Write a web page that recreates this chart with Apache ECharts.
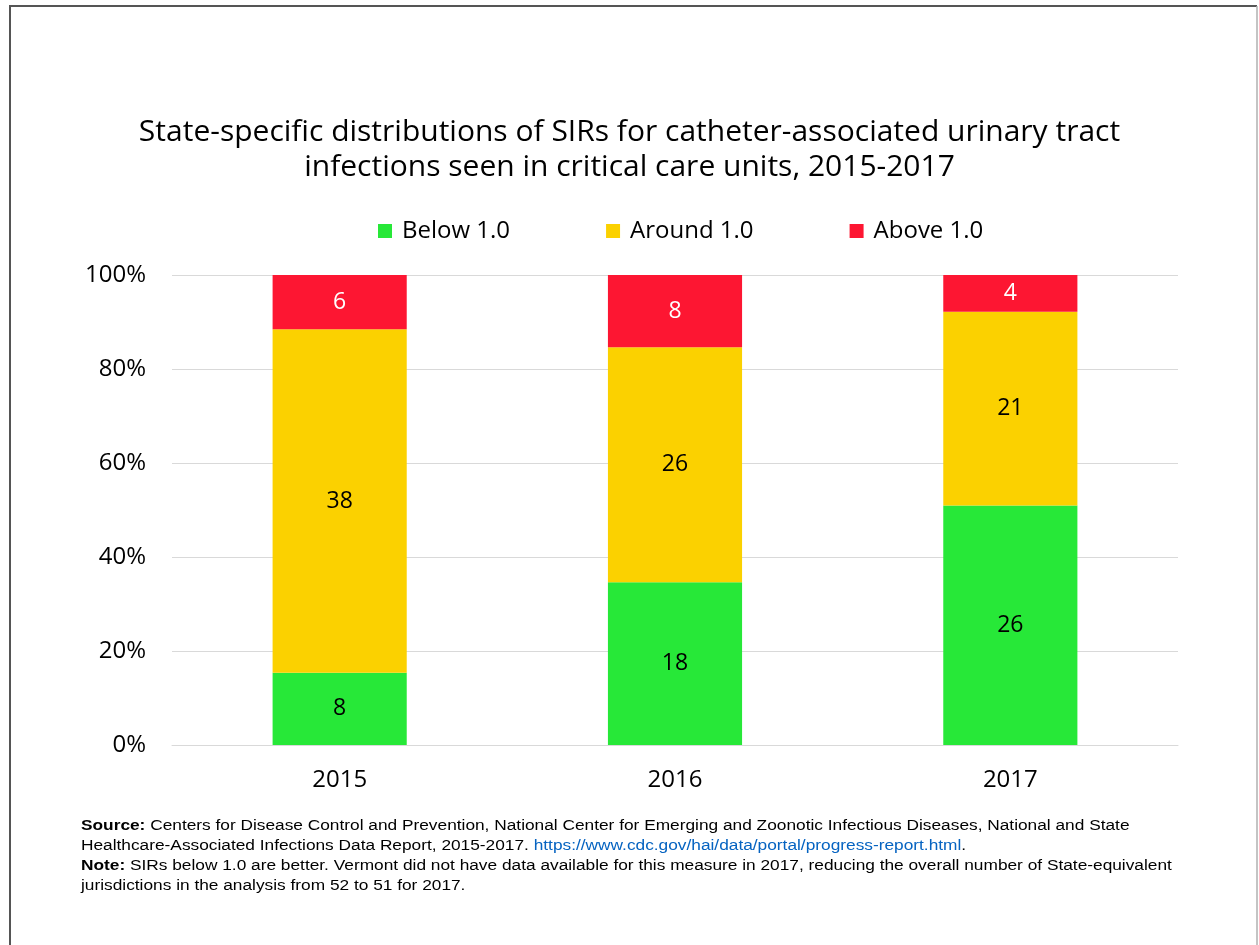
<!DOCTYPE html>
<html>
<head>
<meta charset="utf-8">
<script src="https://cdn.jsdelivr.net/npm/echarts@6/dist/echarts.min.js"></script>
<style>
html,body{margin:0;padding:0;background:#fff;}
#chart{width:1259px;height:945px;}
</style>
</head>
<body>
<div id="chart"></div>
<script>
const categories = ['2015', '2016', '2017'];
const seriesNames = ['Below 1.0', 'Around 1.0', 'Above 1.0'];
const belowCounts = [8, 18, 26];
const aroundCounts = [38, 26, 21];
const aboveCounts = [6, 8, 4];
const yTickLabels = ['0%', '20%', '40%', '60%', '80%', '100%'];
const colors = ['#27E838', '#FBD100', '#FD1632'];
const labelColors = ['#000000', '#000000', '#FFFFFF'];

const totals = categories.map((_, i) => belowCounts[i] + aroundCounts[i] + aboveCounts[i]);
const allCounts = [belowCounts, aroundCounts, aboveCounts];

const FONT = '"Open Sans", Lato, sans-serif';
const NOTE_FONT = '"Liberation Sans", Arial, sans-serif';

const chart = echarts.init(document.getElementById('chart'), null, {renderer: 'canvas'});
chart.setOption({
  animation: false,
  backgroundColor: '#ffffff',
  title: {
    text: 'State-specific distributions of SIRs for catheter-associated urinary tract\ninfections seen in critical care units, 2015-2017',
    left: 'center',
    top: 110,
    textStyle: {fontFamily: FONT, fontSize: 30, fontWeight: 'normal', color: '#000', lineHeight: 35}
  },
  legend: {
    top: 214,
    left: 373,
    itemWidth: 14,
    itemHeight: 14,
    itemGap: 96,
    icon: 'rect',
    textStyle: {fontFamily: FONT, fontSize: 24, color: '#000', padding: [0, 0, 0, 5]},
    data: seriesNames
  },
  grid: {left: 172, right: 81, top: 275, bottom: 200, containLabel: false},
  xAxis: {
    type: 'category',
    data: categories,
    axisLine: {show: true, lineStyle: {color: '#d9d9d9'}},
    axisTick: {show: false},
    axisLabel: {fontFamily: FONT, fontSize: 24, color: '#000', margin: 23}
  },
  yAxis: {
    type: 'value',
    min: 0,
    max: 100,
    interval: 20,
    axisLine: {show: false},
    axisTick: {show: false},
    splitLine: {lineStyle: {color: '#d9d9d9', width: 1}},
    axisLabel: {
      fontFamily: FONT, fontSize: 24, color: '#000', margin: 26,
      formatter: (v) => yTickLabels[Math.round(v / 20)]
    }
  },
  series: seriesNames.map((name, s) => ({
    name: name,
    type: 'bar',
    stack: 'total',
    barWidth: '40%',
    itemStyle: {color: colors[s]},
    label: {
      show: true,
      position: 'inside',
      fontFamily: FONT,
      fontSize: 23,
      color: labelColors[s],
      formatter: (p) => String(allCounts[s][p.dataIndex])
    },
    data: allCounts[s].map((c, i) => c / totals[i] * 100)
  })),
  graphic: [
    {
      type: 'polyline',
      shape: {points: [[10, 945], [10, 6], [1257, 6]]},
      style: {fill: 'none', stroke: '#555', lineWidth: 2},
      silent: true
    },
    {
      type: 'line',
      shape: {x1: 1257, y1: 6, x2: 1257, y2: 945},
      style: {stroke: '#b0b0b0', lineWidth: 1.5},
      silent: true
    },
    {
      type: 'text',
      x: 81,
      y: 816,
      scaleX: 1.235,
      style: {
        x: 0,
        y: 0,
        text: '{b|Source:} Centers for Disease Control and Prevention, National Center for Emerging and Zoonotic Infectious Diseases, National and State\n' +
              'Healthcare-Associated Infections Data Report, 2015-2017. {l|https://www.cdc.gov/hai/data/portal/progress-report.html}.\n' +
              '{b|Note:} SIRs below 1.0 are better. Vermont did not have data available for this measure in 2017, reducing the overall number of State-equivalent\n' +
              'jurisdictions in the analysis from 52 to 51 for 2017.',
        font: '14px ' + NOTE_FONT,
        fill: '#000',
        lineHeight: 20,
        verticalAlign: 'top',
        rich: {
          b: {fontWeight: 'bold', fontFamily: NOTE_FONT, fontSize: 14, lineHeight: 20},
          l: {fill: '#0563C1', fontFamily: NOTE_FONT, fontSize: 14, lineHeight: 20, textDecoration: 'underline'}
        }
      }
    }
  ]
});
</script>
</body>
</html>
